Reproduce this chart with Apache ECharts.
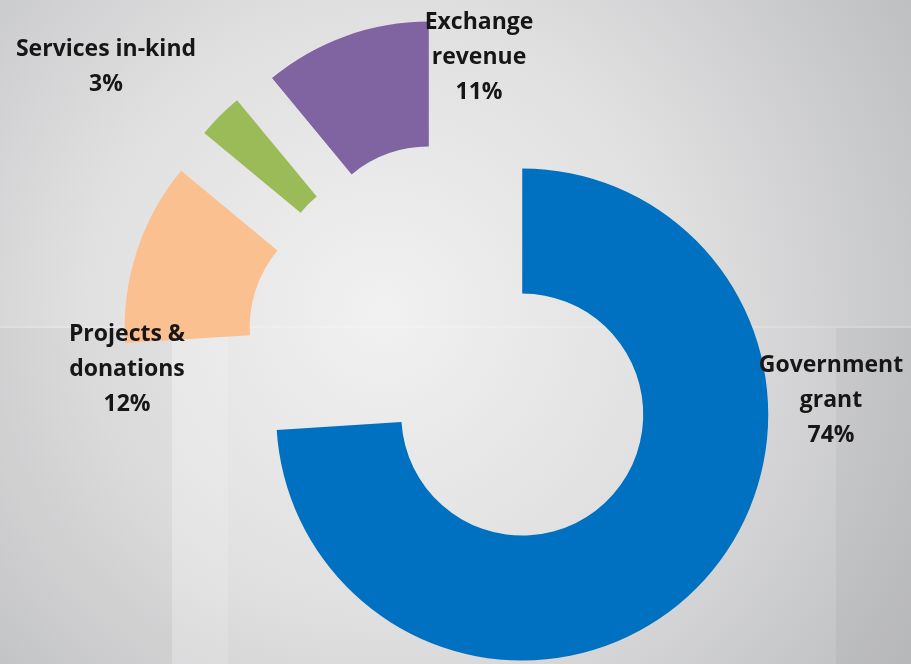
<!DOCTYPE html>
<html>
<head>
<meta charset="utf-8">
<script src="https://cdn.jsdelivr.net/npm/echarts@6/dist/echarts.min.js"></script>
<style>
  html, body { margin: 0; padding: 0; }
  #chart { width: 911px; height: 664px; }
</style>
</head>
<body>
<div id="chart"></div>
<script>
// Income sources, listed clockwise from 12 o'clock
const categories = ['Government grant', 'Projects & donations', 'Services in-kind', 'Exchange revenue'];
const labelNames = ['Government\ngrant', 'Projects &\ndonations', 'Services in-kind', 'Exchange\nrevenue'];
const values = [74, 12, 3, 11];
const colors = ['#0070C0', '#FAC090', '#9BBB59', '#8064A2'];

// Label anchor points (centre of each text block)
const labelSpots = [[831, 400], [127, 369], [106, 67], [479, 57]];

const FONT = '"Open Sans", "Liberation Sans", sans-serif';
const CENTER = [461, 357];
const RADIUS = [121, 246];

// One exploded ring; only the slices listed in `shown` are painted in it
function ring(shown, offset) {
  return {
    type: 'pie',
    center: CENTER,
    radius: RADIUS,
    startAngle: 90,
    clockwise: true,
    silent: true,
    animation: false,
    selectedMode: 'multiple',
    selectedOffset: offset,
    label: { show: false },
    labelLine: { show: false },
    emphasis: { disabled: true },
    data: values.map((v, i) => {
      const on = shown.indexOf(i) >= 0;
      return {
        name: categories[i],
        value: v,
        selected: on,
        itemStyle: { color: on ? colors[i] : 'rgba(0,0,0,0)', borderWidth: 0 }
      };
    })
  };
}

// Invisible ring that only carries the category / percentage labels
const labelRing = {
  type: 'pie',
  center: CENTER,
  radius: RADIUS,
  startAngle: 90,
  clockwise: true,
  silent: true,
  animation: false,
  avoidLabelOverlap: false,
  itemStyle: { color: 'rgba(0,0,0,0)', borderWidth: 0 },
  labelLine: { show: false },
  emphasis: { disabled: true },
  label: {
    show: true,
    position: 'outside',
    formatter: (p) => labelNames[p.dataIndex] + '\n' + p.value + '%',
    fontFamily: FONT,
    fontWeight: 'bold',
    fontSize: 23,
    lineHeight: 35,
    color: '#161616',
    align: 'center'
  },
  labelLayout: (p) => ({
    x: labelSpots[p.dataIndex][0],
    y: labelSpots[p.dataIndex][1],
    align: 'center',
    verticalAlign: 'middle'
  }),
  data: values.map((v, i) => ({ name: categories[i], value: v }))
};

const chart = echarts.init(document.getElementById('chart'), null, { renderer: 'canvas' });

chart.setOption({
  graphic: [
    {
      type: 'rect', z: -10, silent: true,
      shape: { x: 0, y: 0, width: 911, height: 664 },
      style: {
        fill: {
          type: 'radial', x: 0.42, y: 0.47, r: 1.0,
          colorStops: [
            { offset: 0, color: '#f1f1f1' },
            { offset: 0.45, color: '#e0e0e1' },
            { offset: 1, color: '#b9babc' }
          ]
        }
      }
    },
    // faint panels in the lower backdrop
    {
      type: 'rect', z: -9, silent: true,
      shape: { x: 0, y: 328, width: 172, height: 336 },
      style: { fill: 'rgba(0,0,0,0.025)' }
    },
    {
      type: 'rect', z: -9, silent: true,
      shape: { x: 172, y: 328, width: 56, height: 336 },
      style: { fill: 'rgba(255,255,255,0.15)' }
    },
    {
      type: 'rect', z: -9, silent: true,
      shape: { x: 836, y: 328, width: 75, height: 336 },
      style: { fill: 'rgba(0,0,0,0.03)' }
    },
    {
      type: 'rect', z: -9, silent: true,
      shape: { x: 0, y: 326, width: 911, height: 2 },
      style: { fill: 'rgba(255,255,255,0.18)' }
    }
  ],
  series: [
    ring([0], 84),
    ring([1, 2, 3], 95),
    labelRing
  ]
});
</script>
</body>
</html>
